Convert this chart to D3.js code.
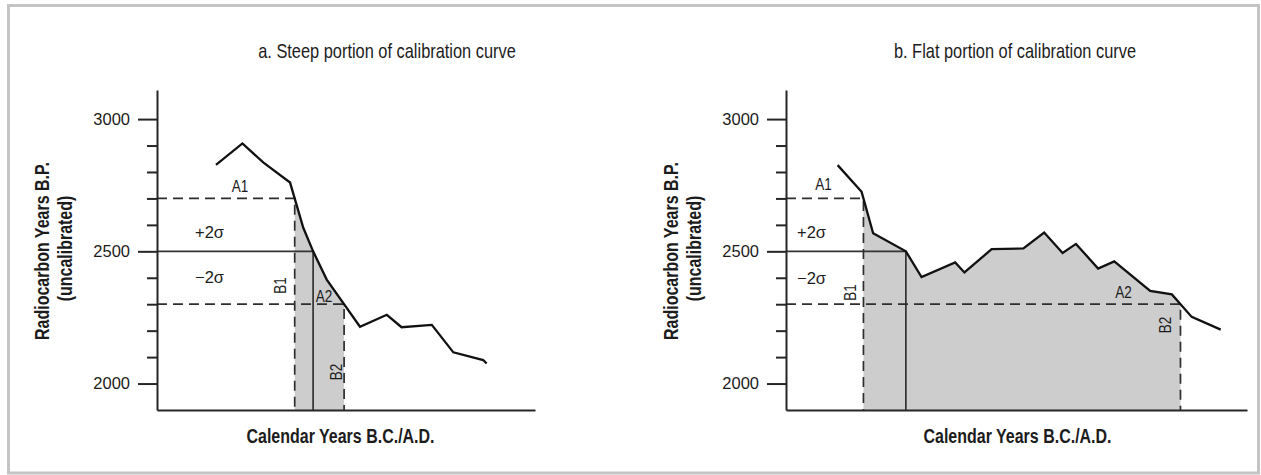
<!DOCTYPE html>
<html>
<head>
<meta charset="utf-8">
<script src="https://cdn.jsdelivr.net/npm/d3@7"></script>
<style>
  body { margin: 0; background: #fff; }
  svg { display: block; }
  text { fill: #1c1c1c; font-family: "Liberation Sans", Arial, sans-serif; }
  .tick text { font-size: 16.5px; fill: #1c1c1c; }
  .axis path, .axis line { stroke: #262626; stroke-width: 2; }
</style>
</head>
<body>
<div class="chart"></div>
<script>
// radiocarbon axis
var yTicks = d3.range(2000, 3001, 100);
var yLabelled = [2000, 2500, 3000];
var measured = 2500;   // radiocarbon date of the sample
var twoSigma = 200;    // +/- 2 sigma

// calibration curves: calendar position (0-100 along the axis) vs radiocarbon years
var steepCal = [15.6, 22.6, 28.1, 35.2, 38.7, 41.3, 44.9, 53.7, 60.8, 64.7, 72.7, 78.4, 86.3, 87.2];
var steepC14 = [2827, 2908, 2836, 2760, 2589, 2500, 2393, 2215, 2260, 2213, 2222, 2118, 2089, 2076];

var flatCal = [11.2, 16.4, 18.9, 26.0, 29.4, 36.7, 38.7, 44.6, 51.5, 56.0, 60.0, 62.9, 67.7, 71.2, 79.0, 83.7, 88.0, 94.3];
var flatC14 = [2826, 2725, 2568, 2500, 2403, 2458, 2420, 2508, 2511, 2571, 2494, 2528, 2435, 2462, 2350, 2337, 2252, 2204];

var titles = ["a. Steep portion of calibration curve", "b. Flat portion of calibration curve"];
var xTitle = "Calendar Years B.C./A.D.";
var yTitle = ["Radiocarbon Years B.P.", "(uncalibrated)"];

var W = 1261, H = 475;
var plotTop = 90, plotBottom = 410;
var squeeze = 0.82;   // condensed look of the original lettering

var svg = d3.select(".chart").append("svg")
    .attr("width", W)
    .attr("height", H);

// outer frame
svg.append("rect")
    .attr("x", 8.5).attr("y", 5.5)
    .attr("width", 1250).attr("height", 467.5)
    .attr("fill", "none")
    .attr("stroke", "#c4c4c4")
    .attr("stroke-width", 3);

var y = d3.scaleLinear().domain([1900, 3110]).range([plotBottom, plotTop]);

var panels = [
    { x0: 157, x1: 535, cal: steepCal, c14: steepC14, title: titles[0], titleX: 387, xTitleX: 340.5,
      a1: [83, 192], plus: [38, 238], minus: [38, 283], b1: [129, 285.5], a2: [167, 302], b2: [185, 372] },
    { x0: 786, x1: 1247, cal: flatCal, c14: flatC14, title: titles[1], titleX: 1015, xTitleX: 1017.5,
      a1: [37.5, 190], plus: [11, 238], minus: [11, 284], b1: [70, 292.5], a2: [337.5, 298], b2: [385, 325] }
];

// first place where the curve drops through a given radiocarbon level
function crossing(xs, ys, level) {
    for (var i = 0; i < xs.length - 1; i++) {
        var a = ys[i] - level, b = ys[i + 1] - level;
        if (a >= 0 && b <= 0 && a !== b) return xs[i] + a / (a - b) * (xs[i + 1] - xs[i]);
    }
    return null;
}

// text placed at (cx, cy), condensed unless told otherwise, optionally reading bottom-up
function addText(g, txt, cx, cy, size, opts) {
    opts = opts || {};
    var sx = opts.wide ? 1 : squeeze;
    return g.append("text")
        .attr("text-anchor", opts.anchor || "middle")
        .attr("transform", "translate(" + cx + "," + cy + ")" + (opts.rotate ? " rotate(-90)" : "") + " scale(" + sx + ",1)")
        .style("font-size", size + "px")
        .style("font-weight", opts.bold ? "bold" : null)
        .text(txt);
}

panels.forEach(function(p) {
    var x = d3.scaleLinear().domain([0, 100]).range([p.x0, p.x1]);
    var g = svg.append("g");
    var pts = p.cal.map(function(d, i) { return { u: d, v: p.c14[i] }; });

    var upper = measured + twoSigma, lower = measured - twoSigma;
    var uB1 = crossing(p.cal, p.c14, upper);
    var uMid = crossing(p.cal, p.c14, measured);
    var uB2 = crossing(p.cal, p.c14, lower);

    // shaded calendar range under the curve
    var shade = [{ u: uB1, v: upper }]
        .concat(pts.filter(function(d) { return d.u > uB1 && d.u < uB2; }))
        .concat([{ u: uB2, v: lower }]);
    g.append("path")
        .datum(shade)
        .attr("fill", "#cdcdcd")
        .attr("d", d3.area()
            .x(function(d) { return x(d.u); })
            .y0(plotBottom)
            .y1(function(d) { return y(d.v); }));

    // measured date and its reading
    g.append("path")
        .attr("d", "M" + p.x0 + "," + y(measured) + "H" + x(uMid) + "V" + plotBottom)
        .attr("fill", "none")
        .attr("stroke", "#333").attr("stroke-width", 1.7);

    // 2 sigma limits (dashed)
    [[upper, uB1], [lower, uB2]].forEach(function(d) {
        g.append("path")
            .attr("d", "M" + p.x0 + "," + y(d[0]) + "H" + x(d[1]) + "V" + plotBottom)
            .attr("fill", "none")
            .attr("stroke", "#2e2e2e")
            .attr("stroke-width", 1.7)
            .attr("stroke-dasharray", "10,6");
    });

    // calibration curve
    g.append("path")
        .datum(pts)
        .attr("fill", "none")
        .attr("stroke", "#111")
        .attr("stroke-width", 2.3)
        .attr("d", d3.line()
            .x(function(d) { return x(d.u); })
            .y(function(d) { return y(d.v); }));

    // Y axis
    var yAxis = g.append("g")
        .attr("class", "axis")
        .attr("transform", "translate(" + p.x0 + ",0)")
        .call(d3.axisLeft(y)
            .tickValues(yTicks)
            .tickSize(19)
            .tickSizeOuter(0)
            .tickPadding(8)
            .tickFormat(function(d) { return yLabelled.indexOf(d) >= 0 ? d : ""; }));
    yAxis.selectAll(".tick line")
        .attr("x2", function(d) { return yLabelled.indexOf(d) >= 0 ? -19 : -10; });

    // X axis (no ticks)
    g.append("g")
        .attr("class", "axis")
        .attr("transform", "translate(0," + plotBottom + ")")
        .call(d3.axisBottom(x).tickValues([]).tickSizeOuter(0));

    // titles
    addText(g, p.title, p.titleX, 57.5, 20);
    addText(g, xTitle, p.xTitleX, 442.5, 19.5, { bold: true });
    addText(g, yTitle[0], p.x0 - 108, 251, 19.5, { bold: true, rotate: true });
    addText(g, yTitle[1], p.x0 - 85.5, 248.5, 19.5, { bold: true, rotate: true });

    // annotations
    addText(g, "A1", p.x0 + p.a1[0], p.a1[1], 16.5);
    addText(g, "+2\u03c3", p.x0 + p.plus[0], p.plus[1], 16.5, { anchor: "start", wide: true });
    addText(g, "\u22122\u03c3", p.x0 + p.minus[0], p.minus[1], 16.5, { anchor: "start", wide: true });
    addText(g, "B1", p.x0 + p.b1[0], p.b1[1], 16.5, { rotate: true });
    addText(g, "A2", p.x0 + p.a2[0], p.a2[1], 16.5);
    addText(g, "B2", p.x0 + p.b2[0], p.b2[1], 16.5, { rotate: true });
});
</script>
</body>
</html>
